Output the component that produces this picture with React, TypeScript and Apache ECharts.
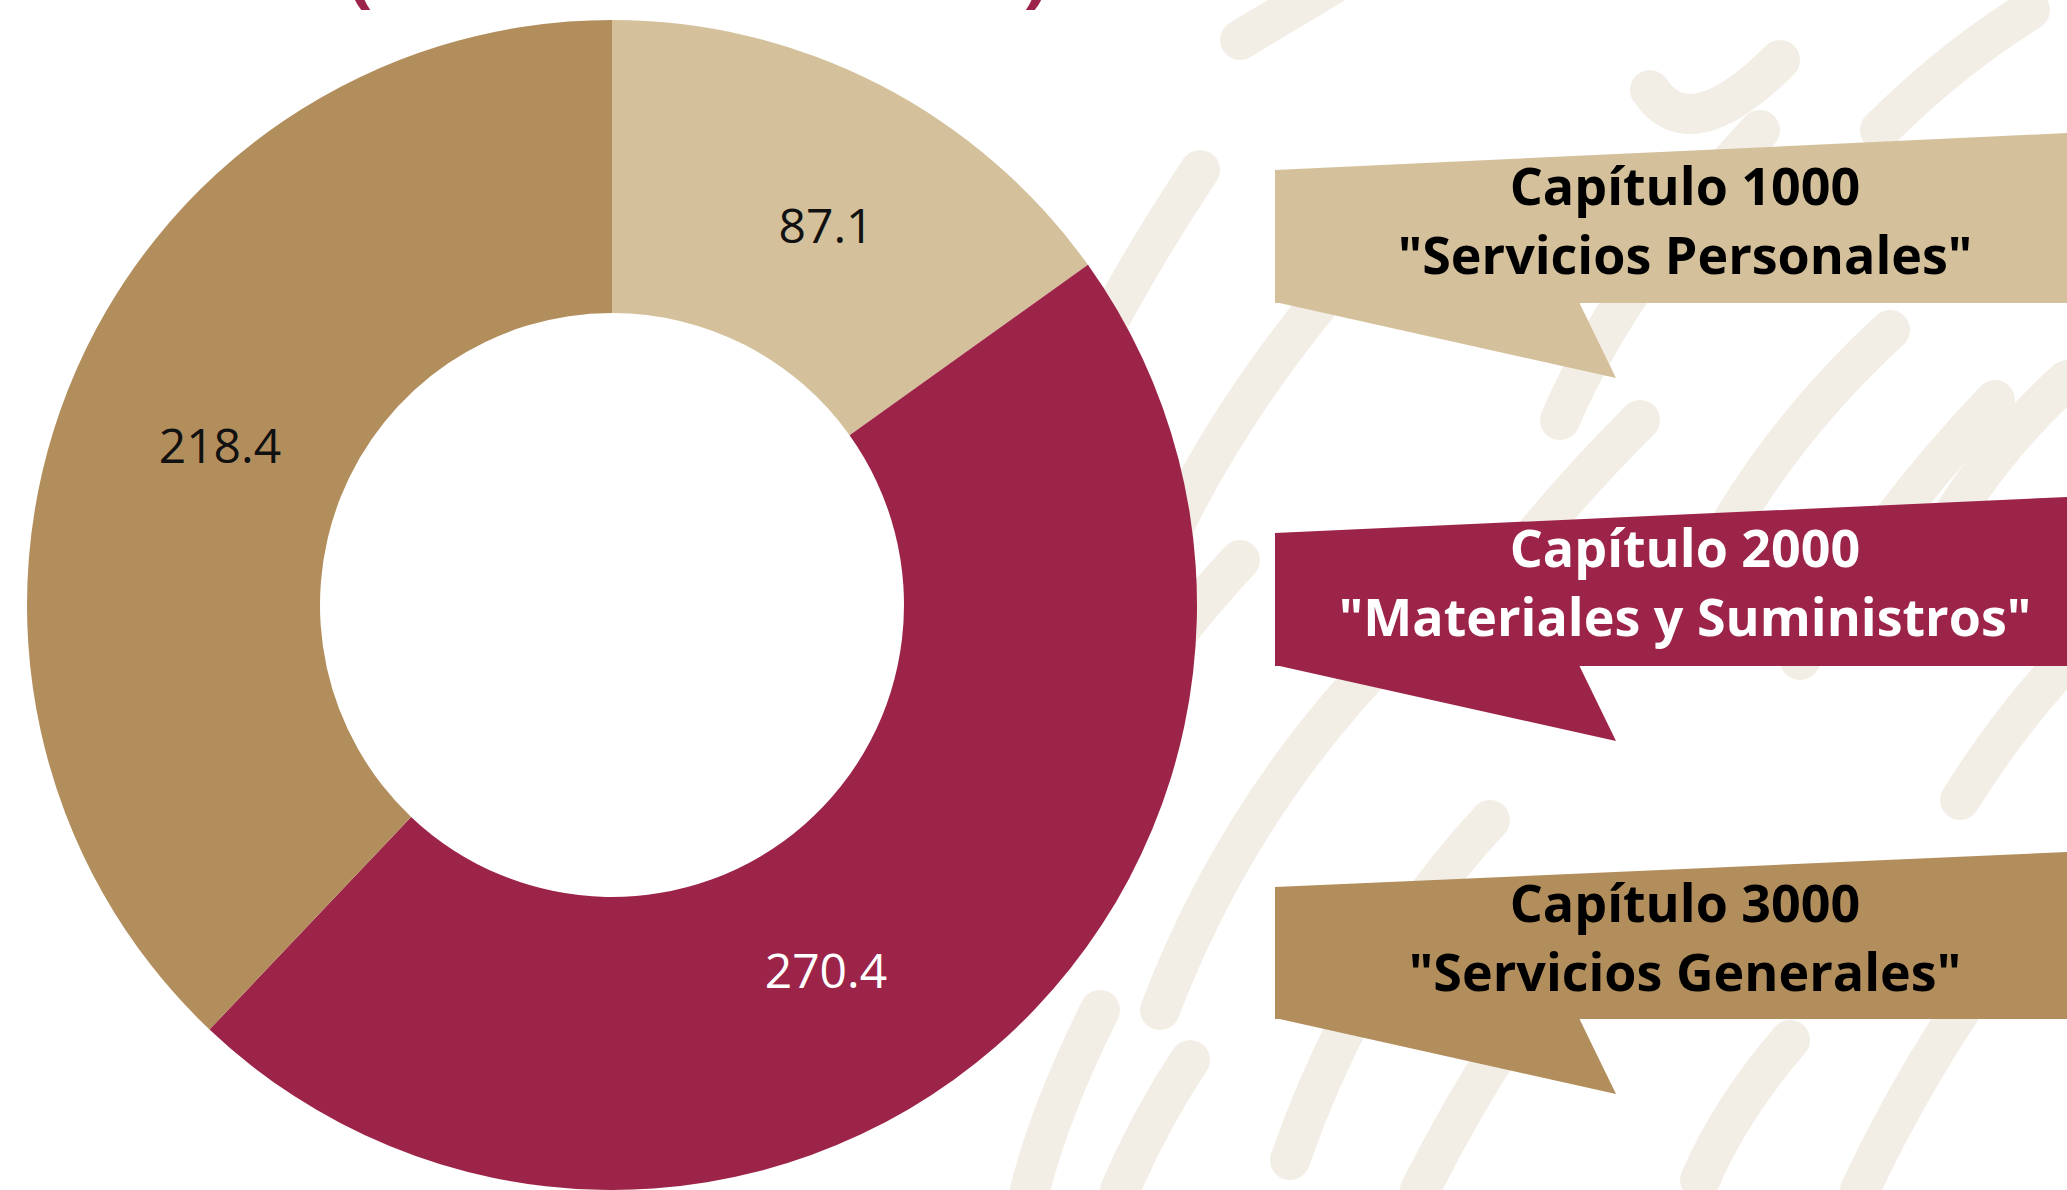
import React, { useEffect, useRef } from "react";
import * as echarts from "echarts";

const categories = ["Capítulo 1000", "Capítulo 2000", "Capítulo 3000"];
const subtitles = ['"Servicios Personales"', '"Materiales y Suministros"', '"Servicios Generales"'];
const values = [87.1, 270.4, 218.4];
const colors = ["#D4C19C", "#9D2449", "#B38E5D"];
const labelColors = ["#111111", "#FFFFFF", "#111111"];
const bannerTextColors = ["#000000", "#FFFFFF", "#000000"];
const titleText = "(Millones de Pesos)";

const W = 2067;
const H = 1190;

// decorative background strokes (pattern)
const patternStrokes: number[][] = [
  [1010, 560, 1060, 380, 1200, 170],
  [1120, 660, 1180, 470, 1330, 290],
  [1020, 920, 1090, 720, 1240, 560],
  [1160, 1010, 1240, 800, 1400, 640],
  [1290, 1160, 1360, 960, 1490, 820],
  [1420, 1190, 1500, 1030, 1610, 900],
  [1700, 580, 1770, 440, 1890, 330],
  [1800, 660, 1880, 520, 1995, 400],
  [1560, 420, 1620, 280, 1760, 130],
  [1860, 1190, 1930, 1040, 2040, 900],
  [1030, 1190, 1050, 1110, 1100, 1010],
  [1470, 620, 1540, 520, 1640, 420],
  [1240, 40, 1290, 10, 1340, -20],
  [1650, 90, 1690, 150, 1780, 60],
  [1880, 130, 1950, 60, 2030, 10],
  [1950, 520, 2000, 440, 2067, 380],
  [1960, 800, 2010, 720, 2067, 660],
  [1700, 1180, 1730, 1110, 1790, 1040],
  [1120, 1190, 1150, 1120, 1190, 1060],
];

export default function App() {
  const ref = useRef<HTMLDivElement>(null);

  useEffect(() => {
    document.body.style.margin = "0";
    document.body.style.background = "#ffffff";
    if (!ref.current) return;
    const chart = echarts.init(ref.current, undefined, { renderer: "svg", width: W, height: H });

    const bannerTops = [
      [170, 133, 303],
      [533, 497, 666],
      [887, 852, 1019],
    ];
    const textY = [
      [184, 253],
      [546, 615],
      [901, 970],
    ];

    const graphics: any[] = [];
    patternStrokes.forEach((s) => {
      graphics.push({
        type: "bezierCurve",
        z: 0,
        silent: true,
        shape: { x1: s[0], y1: s[1], cpx1: s[2], cpy1: s[3], x2: s[4], y2: s[5] },
        style: { stroke: "#F2EEE6", lineWidth: 40, lineCap: "round", fill: null },
      });
    });

    categories.forEach((c, i) => {
      const [tl, tr, b] = bannerTops[i];
      graphics.push({
        type: "polygon",
        z: 10,
        shape: { points: [[1275, tl], [W, tr], [W, b], [1275, b]] },
        style: { fill: colors[i] },
      });
      graphics.push({
        type: "polygon",
        z: 10,
        shape: { points: [[1275, b - 1], [1616, b + 75], [1579, b - 1]] },
        style: { fill: colors[i] },
      });
      graphics.push({
        type: "text",
        z: 11,
        x: 1685,
        y: textY[i][0],
        style: {
          text: c,
          fill: bannerTextColors[i],
          font: "bold 52px 'Open Sans'",
          align: "center",
          verticalAlign: "middle",
        },
      });
      graphics.push({
        type: "text",
        z: 11,
        x: 1685,
        y: textY[i][1],
        style: {
          text: subtitles[i],
          fill: bannerTextColors[i],
          font: "bold 52px 'Open Sans'",
          align: "center",
          verticalAlign: "middle",
        },
      });
    });

    graphics.push({
      type: "text",
      z: 11,
      x: 698,
      y: -31,
      style: {
        text: titleText,
        fill: "#9D2449",
        font: "bold 74px 'Open Sans'",
        align: "center",
        verticalAlign: "middle",
      },
    });

    const labelShift = [
      [12, 12],
      [-76, 31],
      [18, 3],
    ];

    chart.setOption({
      animation: false,
      backgroundColor: "#ffffff",
      graphic: { elements: graphics },
      series: [
        {
          type: "pie",
          z: 5,
          center: [612, 605],
          radius: [292, 585],
          startAngle: 90,
          clockwise: true,
          avoidLabelOverlap: false,
          silent: true,
          itemStyle: { borderWidth: 0 },
          label: {
            show: true,
            position: "inside",
            fontFamily: "'Open Sans'",
            fontSize: 48,
            fontWeight: "normal",
            formatter: (p: any) => p.value.toFixed(1),
          },
          labelLine: { show: false },
          labelLayout: (p: any) => ({
            dx: labelShift[p.dataIndex][0],
            dy: labelShift[p.dataIndex][1],
          }),
          data: values.map((v, i) => ({
            name: categories[i],
            value: v,
            itemStyle: { color: colors[i] },
            label: { color: labelColors[i] },
          })),
        },
      ],
    });

    return () => chart.dispose();
  }, []);

  return <div ref={ref} style={{ width: W, height: H }} />;
}
